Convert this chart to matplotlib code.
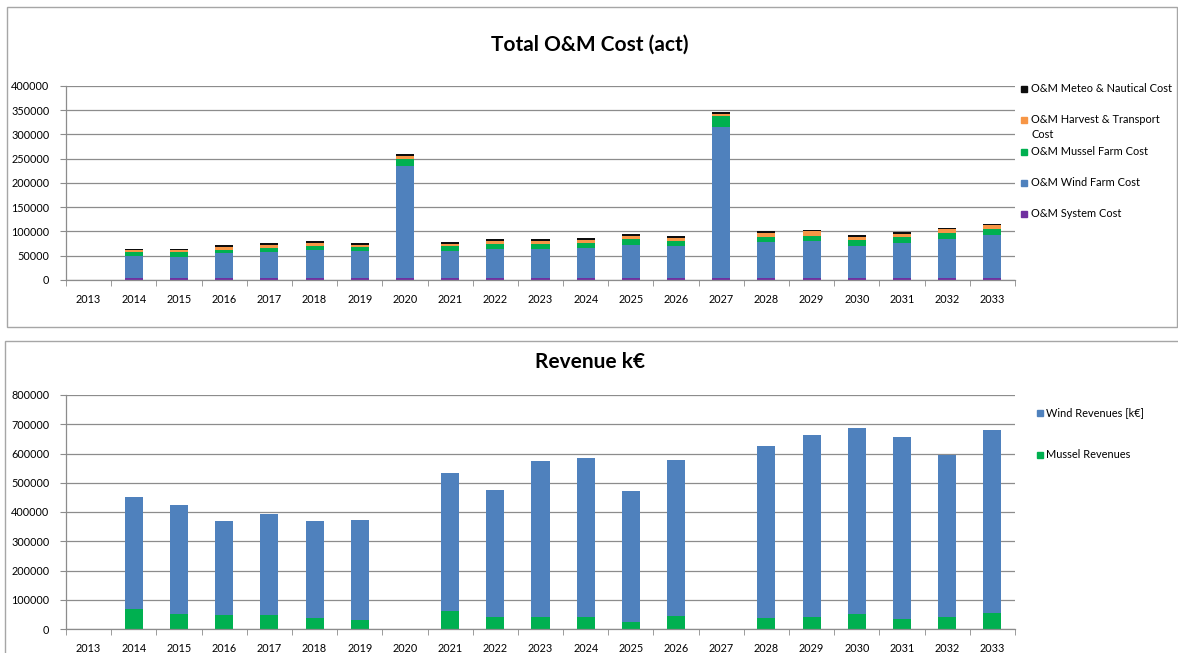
import matplotlib.pyplot as plt
from matplotlib.patches import Rectangle

plt.rcParams['font.family'] = ['Lato', 'DejaVu Sans']

# data
years = [str(y) for y in range(2013, 2034)]

system_cost = [0] + [4500] * 20
wind_farm_cost = [0, 45300, 42500, 50800, 53500, 57600, 54900, 231000, 54900, 59000, 59000,
                  61700, 67900, 65900, 311400, 74100, 76800, 65900, 72000, 81000, 87800]
mussel_farm_cost = [0, 8200, 11000, 6900, 8200, 8200, 8900, 13700, 11000, 11000, 11000,
                    10300, 12300, 10300, 21300, 11000, 10300, 13000, 13000, 11000, 12300]
harvest_cost = [0, 4100, 4100, 6200, 5500, 6200, 4100, 6200, 4100, 5500, 5500,
                5500, 5500, 5500, 5500, 8200, 8900, 5500, 5500, 8200, 8200]
meteo_cost = [0, 2700, 2700, 3400, 4100, 3400, 3400, 3400, 3400, 4100, 4100,
              4100, 4100, 4100, 2700, 2700, 2700, 4100, 4100, 2700, 2700]

mussel_rev = [0, 68400, 50100, 46700, 46700, 36500, 29600, 0, 61500, 41000, 39900,
              41000, 22800, 44400, 0, 36500, 39900, 51300, 33000, 39900, 54700]
wind_rev = [0, 381700, 372700, 323700, 347600, 333900, 344200, 0, 470700, 434200, 534500,
            543600, 449000, 533400, 0, 590300, 622200, 635900, 622300, 555000, 625600]

cost_labels = ['O&M System Cost', 'O&M Wind Farm Cost', 'O&M Mussel Farm Cost',
               'O&M Harvest & Transport\nCost', 'O&M Meteo & Nautical Cost']
cost_colors = ['#7030A0', '#4F81BD', '#00B050', '#F79646', '#0D0D0D']
rev_labels = ['Mussel Revenues', 'Wind Revenues [k€]']
rev_colors = ['#00B050', '#4F81BD']

W, H = 1178, 653
GRID = '#8C8C8C'
FS = 7.8
LEG_FS = 7.9


def fx(px):
    return px / W


def fy(py):
    return 1 - py / H


def style_axes(ax, ymax, step):
    ax.set_xlim(-0.5, len(years) - 0.5)
    ax.set_ylim(0, ymax)
    ax.set_yticks(range(0, ymax + 1, step))
    ax.set_xticks(range(len(years)))
    ax.set_xticklabels(years)
    ax.set_xticks([i - 0.5 for i in range(len(years) + 1)], minor=True)
    ax.tick_params(axis='x', which='major', length=0, pad=10, labelsize=FS)
    ax.tick_params(axis='x', which='minor', length=4, color=GRID, direction='out')
    ax.tick_params(axis='y', length=4, color=GRID, direction='out', pad=8, labelsize=FS)
    ax.yaxis.grid(True, color=GRID, lw=0.9)
    ax.set_axisbelow(True)
    for s in ['top', 'right']:
        ax.spines[s].set_visible(False)
    for s in ['left', 'bottom']:
        ax.spines[s].set_color(GRID)
        ax.spines[s].set_linewidth(0.9)


fig = plt.figure(figsize=(W / 100, H / 100), dpi=100)

# panel frames
fig.patches.append(Rectangle((fx(7), fy(327)), fx(1170), 320 / H, transform=fig.transFigure,
                             fill=False, ec='#A6A6A6', lw=1))
fig.patches.append(Rectangle((fx(5), fy(660)), fx(1180), 319 / H, transform=fig.transFigure,
                             fill=False, ec='#A6A6A6', lw=1))

x = range(len(years))

# top chart
ax1 = fig.add_axes([fx(66), fy(280), fx(949), 194 / H])
bottom = [0] * len(years)
for vals, col in zip([system_cost, wind_farm_cost, mussel_farm_cost, harvest_cost, meteo_cost],
                     cost_colors):
    ax1.bar(x, vals, width=0.4, bottom=bottom, color=col, lw=0)
    bottom = [b + v for b, v in zip(bottom, vals)]
style_axes(ax1, 400000, 50000)
fig.text(fx(590), fy(45), 'Total O&M Cost (act)', ha='center', va='center',
         fontsize=15, fontweight='bold')

# top legend (drawn by hand to match the layout)
leg_y = [214, 183, 152, 120, 89]
for lab, col, yy in zip(cost_labels, cost_colors, leg_y):
    fig.patches.append(Rectangle((fx(1021), fy(yy + 3)), fx(6), 6 / H,
                                 transform=fig.transFigure, color=col))
    fig.text(fx(1031), fy(yy - 6), lab, ha='left', va='top', fontsize=LEG_FS, linespacing=1.5)

# bottom chart
ax2 = fig.add_axes([fx(66), fy(629), fx(949), 234 / H])
ax2.bar(x, mussel_rev, width=0.4, color=rev_colors[0], lw=0)
ax2.bar(x, wind_rev, width=0.4, bottom=mussel_rev, color=rev_colors[1], lw=0)
style_axes(ax2, 800000, 100000)
fig.text(fx(590), fy(362), 'Revenue k€', ha='center', va='center',
         fontsize=15, fontweight='bold')

for lab, col, yy in zip(rev_labels, rev_colors, [455, 413]):
    fig.patches.append(Rectangle((fx(1037), fy(yy + 3)), fx(6), 6 / H,
                                 transform=fig.transFigure, color=col))
    fig.text(fx(1046), fy(yy), lab, ha='left', va='center', fontsize=LEG_FS)

fig.savefig('out.png', dpi=100)
